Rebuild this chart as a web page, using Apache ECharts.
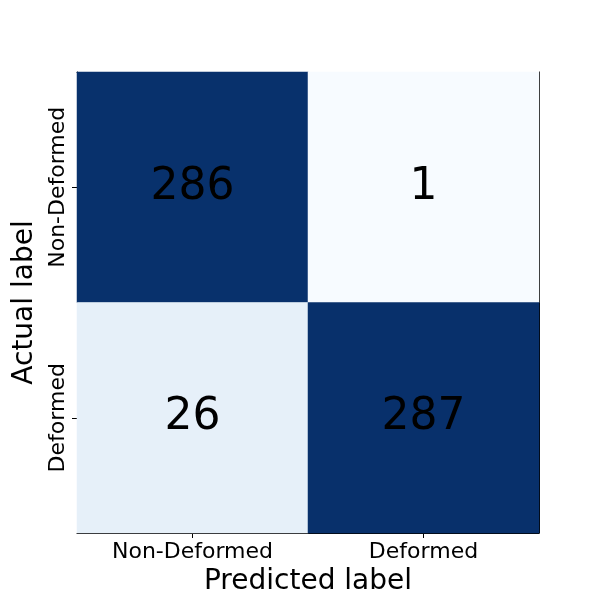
<!DOCTYPE html>
<html>
<head>
<meta charset="utf-8">
<script src="https://cdn.jsdelivr.net/npm/echarts@6/dist/echarts.min.js"></script>
<style>
  html, body { margin: 0; padding: 0; background: #fff; }
  #main { width: 600px; height: 600px; }
</style>
</head>
<body>
<div id="main"></div>
<script>
// labels and counts of the confusion matrix
const predictedLabels = ['Non-Deformed', 'Deformed'];
const actualLabels = ['Deformed', 'Non-Deformed']; // bottom to top
// [predicted index, actual index, count]
const cells = [
  [0, 1, 286],
  [1, 1, 1],
  [0, 0, 26],
  [1, 0, 287]
];
const blues = ['#f7fbff', '#deebf7', '#c6dbef', '#9ecae1', '#6baed6', '#4292c6', '#2171b5', '#08519c', '#08306b'];

const chart = echarts.init(document.getElementById('main'));
const font = 'DejaVu Sans';

// plain frame axes for top / right edges
const frameAxis = {
  type: 'category',
  axisLine: { show: true, lineStyle: { color: '#000' } },
  axisTick: { show: false },
  axisLabel: { show: false },
  splitLine: { show: false }
};

const option = {
  animation: false,
  textStyle: { fontFamily: font },
  grid: {
    left: 77, top: 72, width: 462, height: 461,
    outerBoundsMode: 'none',
    containLabel: false
  },
  xAxis: [{
    type: 'category',
    data: predictedLabels,
    name: 'Predicted label',
    nameLocation: 'middle',
    nameGap: 33,
    nameTextStyle: { fontSize: 28, color: '#000', fontFamily: font },
    axisLine: { show: true, lineStyle: { color: '#000' } },
    axisTick: { show: true, alignWithLabel: true, length: 5, lineStyle: { color: '#000' } },
    axisLabel: { fontSize: 22, color: '#000', fontFamily: font, margin: 8 },
    splitLine: { show: false }
  }, Object.assign({ position: 'top', data: predictedLabels }, frameAxis)],
  yAxis: [{
    type: 'category',
    data: actualLabels,
    name: 'Actual label',
    nameLocation: 'middle',
    nameGap: 34,
    nameTextStyle: { fontSize: 28, color: '#000', fontFamily: font },
    axisLine: { show: true, lineStyle: { color: '#000' } },
    axisTick: { show: true, alignWithLabel: true, length: 5, lineStyle: { color: '#000' } },
    axisLabel: { fontSize: 22, color: '#000', fontFamily: font, rotate: 90, margin: 8 },
    splitLine: { show: false }
  }, Object.assign({ position: 'right', data: actualLabels }, frameAxis)],
  visualMap: {
    show: false,
    min: 1,
    max: 287,
    dimension: 2,
    inRange: { color: blues }
  },
  series: [{
    type: 'heatmap',
    data: cells,
    label: {
      show: true,
      fontSize: 44,
      color: '#000',
      fontFamily: font
    },
    itemStyle: { borderWidth: 0 },
    emphasis: { disabled: true }
  }]
};

chart.setOption(option);
</script>
</body>
</html>
